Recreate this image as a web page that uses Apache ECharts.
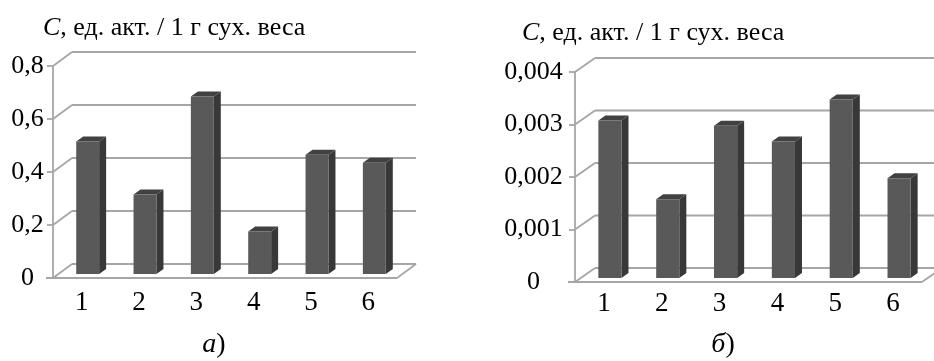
<!DOCTYPE html>
<html><head><meta charset="utf-8">
<script src="https://cdn.jsdelivr.net/npm/echarts@6/dist/echarts.min.js"></script>
<style>html,body{margin:0;padding:0;background:#fff}#c{width:934px;height:361px}</style>
</head><body><div id="c"></div>
<script>
const categories = ['1','2','3','4','5','6'];
const valuesA = [0.50, 0.30, 0.67, 0.16, 0.45, 0.42];
const valuesB = [0.0030, 0.0015, 0.0029, 0.0026, 0.0034, 0.0019];
const ticksA = [0, 0.2, 0.4, 0.6, 0.8];
const ticksB = [0, 0.001, 0.002, 0.003, 0.004];
const yTitle = '{i|C}, ед. акт. / 1 г сух. веса';

const FONT = 'Liberation Serif';
const GRID_COLOR = '#a6a6a6';
const chart = echarts.init(document.getElementById('c'), null, {renderer:'canvas'});

function fmt(v){ return v === 0 ? '0' : String(v).replace('.', ','); }

function wallSeries(idx, ticks, dx, dy){
  return {
    type:'custom', xAxisIndex:idx, yAxisIndex:idx, z:1, silent:true,
    data: ticks.map(t=>[0,t]),
    renderItem(params, api){
      const cs = params.coordSys;
      const v = api.value(1);
      const y = api.coord([0, v])[1];
      const x0 = cs.x, x1 = cs.x + cs.width;
      const st = {stroke:GRID_COLOR, lineWidth:1.8, fill:null};
      const ch = [
        {type:'line', shape:{x1:x0, y1:y, x2:x0+dx, y2:y+dy}, style:st},
        {type:'line', shape:{x1:x0+dx, y1:y+dy, x2:x1+dx, y2:y+dy}, style:st}
      ];
      if (v === 0){
        ch.push({type:'line', shape:{x1:x0-7, y1:y, x2:x1, y2:y}, style:st});
        ch.push({type:'line', shape:{x1:x1, y1:y, x2:x1+dx, y2:y+dy}, style:st});
      }
      return {type:'group', children:ch};
    }
  };
}

function barSeries(idx, vals){
  return {
    type:'custom', xAxisIndex:idx, yAxisIndex:idx, z:5,
    data: vals.map((v,i)=>[i,v]),
    renderItem(params, api){
      const i = api.value(0), v = api.value(1);
      const top = api.coord([i, v]);
      const base = api.coord([i, 0]);
      const band = api.size([1,0])[0];
      const w = band*0.4;
      const ox = 6, oy = -4, ddx = 7, ddy = -5;
      const x0 = top[0] - w/2 + ox;
      const yt = top[1] + oy, yb = base[1] + oy;
      return {type:'group', children:[
        {type:'polygon', shape:{points:[[x0+w,yt],[x0+w+ddx,yt+ddy],[x0+w+ddx,yb+ddy],[x0+w,yb]]}, style:{fill:'#383838'}},
        {type:'polygon', shape:{points:[[x0,yt],[x0+ddx,yt+ddy],[x0+w+ddx,yt+ddy],[x0+w,yt]]}, style:{fill:'#414141'}},
        {type:'rect', shape:{x:x0, y:yt, width:w, height:yb-yt}, style:{fill:'#595959'}}
      ]};
    }
  };
}

function yAxis(idx, max, interval, margin){
  return {
    type:'value', gridIndex:idx, min:0, max:max, interval:interval,
    axisLine:{show:true, lineStyle:{color:GRID_COLOR, width:1.8}},
    axisTick:{show:true, length:6, lineStyle:{color:GRID_COLOR, width:1.8}},
    splitLine:{show:false},
    axisLabel:{color:'#000', fontFamily:FONT, fontSize:26, margin:margin, align:'center', formatter:fmt}
  };
}
function xAxis(idx, margin){
  return {
    type:'category', gridIndex:idx, data:categories,
    axisLine:{show:false}, axisTick:{show:false}, splitLine:{show:false},
    axisLabel:{color:'#000', fontFamily:FONT, fontSize:27, margin:margin}
  };
}

const richI = {i:{fontStyle:'italic', fontFamily:FONT, fontSize:26, color:'#000'}};
const richC = {i:{fontStyle:'italic', fontFamily:FONT, fontSize:28, color:'#000'}};
chart.setOption({
  animation:false,
  backgroundColor:'#fff',
  grid:[
    {left:53, top:66, width:344, height:212},
    {left:575, top:72, width:347, height:210}
  ],
  xAxis:[xAxis(0, 11), xAxis(1, 8)],
  yAxis:[yAxis(0, 0.8, 0.2, 25.5), yAxis(1, 0.004, 0.001, 41.5)],
  series:[
    wallSeries(0, ticksA, 19, -14),
    wallSeries(1, ticksB, 20, -14),
    barSeries(0, valuesA),
    barSeries(1, valuesB)
  ],
  graphic:[
    {type:'text', x:43, y:28, style:{text:yTitle, fontFamily:FONT, fontSize:26, fill:'#000', verticalAlign:'middle', rich:richI}},
    {type:'text', x:522, y:33, style:{text:yTitle, fontFamily:FONT, fontSize:26, fill:'#000', verticalAlign:'middle', rich:richI}},
    {type:'text', x:214, y:345, style:{text:'{i|а})', fontFamily:FONT, fontSize:28, fill:'#000', align:'center', verticalAlign:'middle', rich:richC}},
    {type:'text', x:723, y:345, style:{text:'{i|б})', fontFamily:FONT, fontSize:28, fill:'#000', align:'center', verticalAlign:'middle', rich:richC}}
  ]
});
</script></body></html>
